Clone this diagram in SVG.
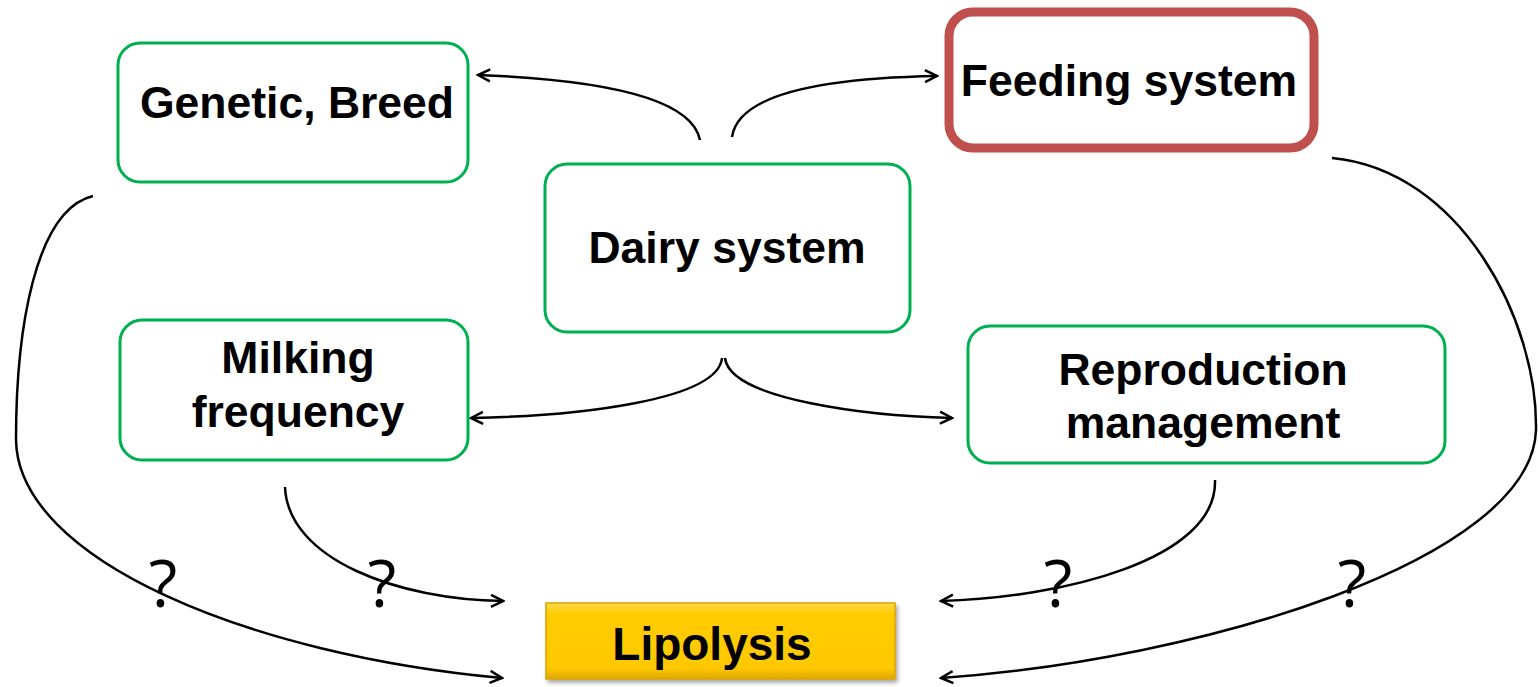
<svg xmlns="http://www.w3.org/2000/svg" width="1538" height="687" viewBox="0 0 1538 687">
<style>
.box{fill:#fff;stroke:#00B050;stroke-width:3}
.t{font-family:"Liberation Sans",Arial,sans-serif;font-weight:bold;font-size:44.5px;fill:#000;text-anchor:middle}
.q{font-family:"Open Sans","Liberation Sans",sans-serif;font-size:66px;fill:#000;text-anchor:middle}
.c{fill:none;stroke:#000;stroke-width:2.5}
</style>
<defs>
<marker id="ah" viewBox="0 0 16 16" refX="14" refY="8" markerWidth="16" markerHeight="16" markerUnits="userSpaceOnUse" orient="auto">
<path d="M2 2 L14 8 L2 14" fill="none" stroke="#000" stroke-width="2.5"/>
</marker>
<linearGradient id="gold" x1="0" y1="0" x2="0" y2="1">
<stop offset="0" stop-color="#FFD84D"/>
<stop offset="0.15" stop-color="#FFCC00"/>
<stop offset="0.85" stop-color="#FFC800"/>
<stop offset="1" stop-color="#E0A800"/>
</linearGradient>
<filter id="sh" x="-10%" y="-20%" width="120%" height="150%">
<feDropShadow dx="2" dy="3" stdDeviation="2" flood-color="#000" flood-opacity="0.35"/>
</filter>
</defs>
<g id="connectors">
<path class="c" d="M700 140 C692 100 610 80 478 75" marker-end="url(#ah)"/>
<path class="c" d="M732 137 C738 95 820 78 937 76" marker-end="url(#ah)"/>
<path class="c" d="M722 358 C718 400 580 416 471 418" marker-end="url(#ah)"/>
<path class="c" d="M725 358 C730 400 870 416 952 418" marker-end="url(#ah)"/>
<path class="c" d="M93 196 C35 210 16 330 16 440 C18 560 250 655 502 678" marker-end="url(#ah)"/>
<path class="c" d="M285 487 C288 560 400 600 503 601" marker-end="url(#ah)"/>
<path class="c" d="M1215 480 C1218 560 1060 598 941 601" marker-end="url(#ah)"/>
<path class="c" d="M1332 158 C1460 170 1538 320 1536 430 C1532 560 1200 660 941 678" marker-end="url(#ah)"/>
</g>
<g id="q-marks">
<text class="q" x="163" y="607">?</text>
<text class="q" x="382" y="607">?</text>
<text class="q" x="1058" y="607">?</text>
<text class="q" x="1352" y="607">?</text>
</g>
<g id="genetic">
<rect class="box" x="118" y="43" width="350" height="139" rx="22"/>
<text class="t" x="297" y="118">Genetic, Breed</text>
</g>
<g id="feeding">
<rect x="949" y="12" width="365" height="136" rx="24" fill="#fff" stroke="#C0504D" stroke-width="9"/>
<text class="t" x="1129" y="96">Feeding system</text>
</g>
<g id="dairy">
<rect class="box" x="545" y="164" width="365" height="168" rx="22"/>
<text class="t" x="727" y="263">Dairy system</text>
</g>
<g id="milking">
<rect class="box" x="120" y="320" width="348" height="140" rx="22"/>
<text class="t" x="298" y="373">Milking</text>
<text class="t" x="298" y="427">frequency</text>
</g>
<g id="reproduction">
<rect class="box" x="968" y="326" width="477" height="137" rx="22"/>
<text class="t" x="1203" y="385">Reproduction</text>
<text class="t" x="1203" y="438">management</text>
</g>
<g id="lipolysis">
<rect x="546" y="603" width="349" height="76" fill="url(#gold)" stroke="#D9A400" stroke-width="1.5" filter="url(#sh)"/>
<text class="t" x="712" y="660" style="font-size:46px">Lipolysis</text>
</g>
</svg>
